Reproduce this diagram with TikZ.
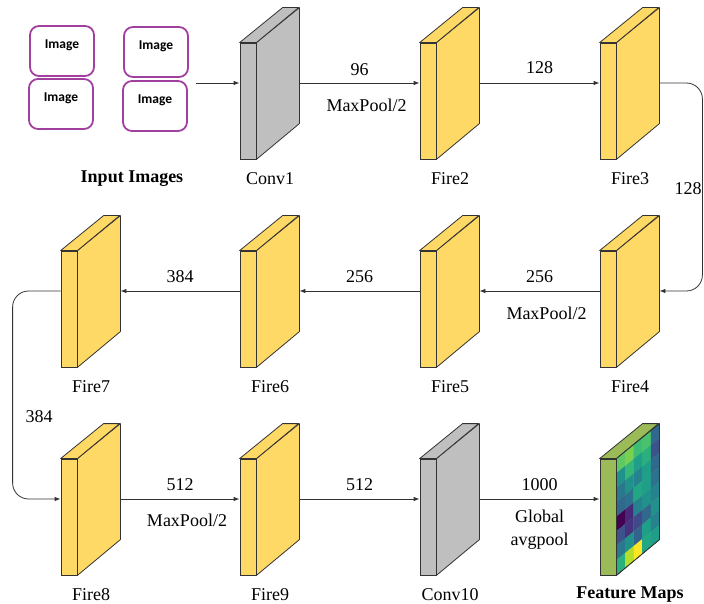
\documentclass[tikz,border=0pt]{standalone}
\usepackage{fontspec}
\setmainfont{Liberation Serif}
\newfontfamily\imgfont{Carlito}
\usetikzlibrary{arrows.meta}

\definecolor{fireyellow}{HTML}{FFD966}
\definecolor{convgray}{HTML}{BFBFBF}
\definecolor{mapgreen}{HTML}{9BBB59}
\definecolor{imgpurple}{HTML}{A1409F}
\definecolor{edge}{HTML}{333333}

% one layer: front face, side and top faces, caption below
\newcommand{\layer}[4]{%
  \node[front, fill=#3] (#1) at #2 {};
  \draw[face, fill=#3] (#1.north east) -- ++(43,-35) -- ++(0,116) -- (#1.south east) -- cycle;
  \draw[face, fill=#3] (#1.north west) -- ++(43,-35) -- ++(16,0) -- (#1.north east) -- cycle;
  \coordinate (#1-in) at ([yshift=18pt]#1.west);
  \coordinate (#1-out) at ([xshift=43pt,yshift=18pt]#1.east);
  \node[caption] (#1-cap) at ([xshift=22pt,yshift=-19pt]#1.south) {#4};
}

\begin{document}
\begin{tikzpicture}[x=1pt, y=-1pt,
    front/.style={draw=edge, line width=0.8pt, inner sep=0pt, minimum width=16pt, minimum height=116pt},
    face/.style={draw=edge, line width=0.8pt, line join=round},
    caption/.style={font=\fontsize{18}{22}\selectfont, inner sep=1pt},
    num/.style={font=\fontsize{18}{23}\selectfont, inner sep=1pt},
    conn/.style={draw=edge, line width=0.8pt, -{Latex[length=6pt,width=4.5pt]}},
    imgbox/.style={draw=imgpurple, line width=1.8pt, rounded corners=9pt, minimum width=64pt,
      minimum height=50pt, text depth=14pt, font=\imgfont\bfseries\fontsize{13.5}{16}\selectfont}]
    \useasboundingbox (0,0) rectangle (704,604);

    % input images
    \node[imgbox] (img1) at (62,51) {Image};
    \node[imgbox] (img2) at (156,52) {Image};
    \node[imgbox] (img3) at (61,104) {Image};
    \node[imgbox] (img4) at (155,106) {Image};
    \node[caption, font=\bfseries\fontsize{18}{22}\selectfont] (inputs-cap) at (132,179) {Input Images};

    % first row
    \layer{conv1}{(248,101)}{convgray}{Conv1}
    \layer{fire2}{(428,101)}{fireyellow}{Fire2}
    \layer{fire3}{(608,101)}{fireyellow}{Fire3}

    % second row
    \layer{fire4}{(608,309)}{fireyellow}{Fire4}
    \layer{fire5}{(428,309)}{fireyellow}{Fire5}
    \layer{fire6}{(248,309)}{fireyellow}{Fire6}
    \layer{fire7}{(69,309)}{fireyellow}{Fire7}

    % third row
    \layer{fire8}{(69,517)}{fireyellow}{Fire8}
    \layer{fire9}{(248,517)}{fireyellow}{Fire9}
    \layer{conv10}{(428,517)}{convgray}{Conv10}
    \layer{fmap}{(608,517)}{mapgreen}{\textbf{Feature Maps}}

    % heat map on the side of the feature maps
    \foreach \c [count=\k from 0] in {
        5EC962,7AD151,3FBC73,4AC16D,31688E,
        21918C,35B779,1F9E89,2AB07F,3B528B,
        2A788E,21918C,26828E,1F9E89,31688E,
        31688E,2C728E,22A785,1F9E89,2C728E,
        440154,482878,26828E,21918C,26828E,
        3B528B,46327E,3E4A89,31688E,21918C,
        2A788E,21918C,33638D,1F9E89,26828E,
        2AB07F,B5DE2B,FDE725,22A785,1F9E89}{
      \pgfmathtruncatemacro\ci{mod(\k,5)}
      \pgfmathtruncatemacro\cj{div(\k,5)}
      \definecolor{cell}{HTML}{\c}
      \fill[cell, shift={(fmap.north east)}] (\ci*8.6,\cj*14.5-\ci*7) -- ++(8.6,-7) -- ++(0,14.5) -- ++(-8.6,7) -- cycle;
    }
    \draw[face] (fmap.north east) -- ++(43,-35) -- ++(0,116) -- (fmap.south east) -- cycle;

    % connections
    \draw[conn] (img2.east |- conv1-in) ++(7,0) -- (conv1-in);
    \draw[conn] (conv1-out) -- node[num, yshift=13pt] (n96) {96}
        node[num, yshift=-22pt, xshift=7pt] (mp1) {MaxPool/2} (fire2-in);
    \draw[conn] (fire2-out) -- node[num, yshift=15pt] (n128a) {128} (fire3-in);
    \draw[conn, rounded corners=16pt] (fire3-out) -- ++(43,0) |- (fire4-out);
    \node[num] (n128b) at (688,189) {128};

    \draw[conn] (fire4-in) -- node[num, yshift=14pt] (n256a) {256}
        node[num, yshift=-22pt, xshift=7pt] (mp2) {MaxPool/2} (fire5-out);
    \draw[conn] (fire5-in) -- node[num, yshift=14pt] (n256b) {256} (fire6-out);
    \draw[conn] (fire6-in) -- node[num, yshift=14pt] (n384a) {384} (fire7-out);
    \draw[conn, rounded corners=16pt] (fire7-in) -- ++(-48,0) |- (fire8-in);
    \node[num] (n384b) at (39,417) {384};

    \draw[conn] (fire8-out) -- node[num, yshift=14pt] (n512a) {512}
        node[num, yshift=-21pt, xshift=7pt] (mp3) {MaxPool/2} (fire9-in);
    \draw[conn] (fire9-out) -- node[num, yshift=14pt] (n512b) {512} (conv10-in);
    \draw[conn] (conv10-out) -- node[num, yshift=14pt] (n1000) {1000}
        node[num, align=center, yshift=-31pt] (gap) {Global\\avgpool} (fmap-in);
\end{tikzpicture}
\end{document}
